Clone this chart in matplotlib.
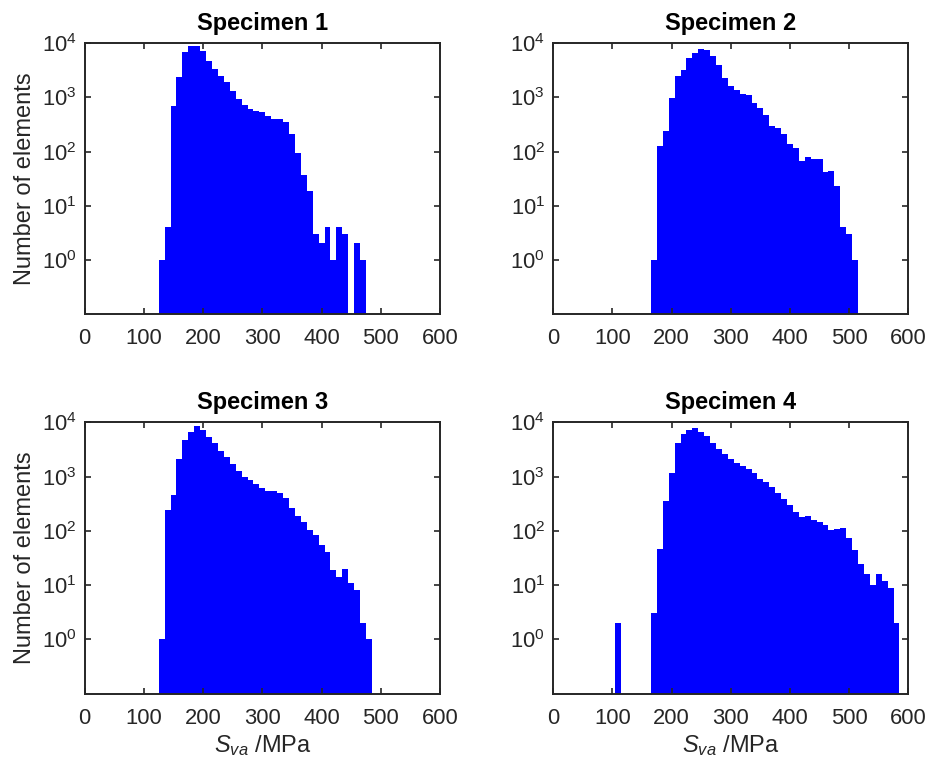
"""Histograms of S_va per specimen (log count axis)."""
import matplotlib
matplotlib.use("Agg")
import matplotlib.pyplot as plt
import numpy as np

BIN_WIDTH = 10  # MPa

# first bin left edge and counts, one list per specimen
spec1_start = 125
spec1_counts = [1, 4, 700, 2400, 6800, 9100, 8900, 7200, 4800, 3400, 2450, 1900,
                1300, 950, 740, 600, 570, 540, 460, 400, 400, 350, 215, 93, 37, 19,
                3, 2, 4, 1, 4, 3, 0, 2, 1]

spec2_start = 165
spec2_counts = [1, 126, 237, 960, 2450, 3200, 5300, 6600, 7800, 7400, 5800, 4000,
                2300, 1630, 1350, 1170, 1120, 790, 630, 470, 300, 275, 213, 138, 114,
                68, 81, 74, 74, 42, 43, 23, 4, 3, 1]

spec3_start = 125
spec3_counts = [1, 245, 456, 2140, 4700, 6500, 8500, 7300, 5400, 4100, 3000, 2300,
                1700, 1260, 1000, 860, 740, 610, 550, 550, 500, 400, 260, 190, 145,
                102, 83, 56, 40, 19, 14, 20, 11, 8, 2, 1]

spec4_start = 105
spec4_counts = [2, 0, 0, 0, 0, 0, 3, 46, 354, 1140, 4100, 6200, 7300, 7700, 6700,
                5500, 4100, 3200, 2640, 2130, 1780, 1580, 1370, 1140, 920, 780, 630,
                500, 385, 294, 225, 178, 190, 158, 148, 128, 102, 108, 111, 75, 44,
                25, 16, 10, 16, 12, 9, 2]

titles = ["Specimen 1", "Specimen 2", "Specimen 3", "Specimen 4"]
x_ticks = [0, 100, 200, 300, 400, 500, 600]
y_ticks = [1, 10, 100, 1000, 10000]

plt.rcParams["font.family"] = ["Liberation Sans", "DejaVu Sans"]
plt.rcParams["mathtext.fontset"] = "custom"
plt.rcParams["mathtext.rm"] = "Liberation Sans"
plt.rcParams["mathtext.it"] = "Liberation Sans:italic"
plt.rcParams["mathtext.bf"] = "Liberation Sans:bold"

INK = "#262626"
fig = plt.figure(figsize=(9.28, 7.69), dpi=100)
W, H = 928, 769
boxes = [(84.7, 43.3, 440, 314), (553.3, 43.3, 908.3, 314),
         (84.7, 422.3, 440, 693.7), (553.3, 422.3, 908.3, 693.7)]
data = [(spec1_start, spec1_counts), (spec2_start, spec2_counts),
        (spec3_start, spec3_counts), (spec4_start, spec4_counts)]

for i, ((x0, y0, x1, y1), (start, counts), title) in enumerate(zip(boxes, data, titles)):
    ax = fig.add_axes([x0 / W, 1 - y1 / H, (x1 - x0) / W, (y1 - y0) / H])
    counts = np.asarray(counts, dtype=float)
    lefts = start + BIN_WIDTH * np.arange(len(counts))
    keep = counts > 0
    ax.bar(lefts[keep], counts[keep], width=BIN_WIDTH, align="edge", bottom=0.01,
           color="#0000ff", linewidth=0, antialiased=False)
    ax.set_yscale("log")
    ax.set_xlim(0, 600)
    ax.set_ylim(0.1, 10000)
    ax.set_xticks(x_ticks)
    ax.set_yticks(y_ticks)
    ax.yaxis.set_minor_locator(matplotlib.ticker.NullLocator())
    ax.tick_params(direction="in", length=4, width=1.2, top=True, right=True,
                   labelsize=15.8, colors=INK)
    ax.tick_params(axis="x", pad=10)
    ax.tick_params(axis="y", pad=6)
    for sp in ax.spines.values():
        sp.set_color(INK)
        sp.set_linewidth(1.4)
    ax.set_title(title, fontsize=17, fontweight="bold", pad=9.5)
    if i % 2 == 0:
        ax.set_ylabel("Number of elements", fontsize=17, color=INK, labelpad=4)
    if i >= 2:
        ax.set_xlabel(r"$S_{va}$ /MPa", fontsize=17, color=INK, labelpad=3)

fig.savefig("out.png", dpi=100)
